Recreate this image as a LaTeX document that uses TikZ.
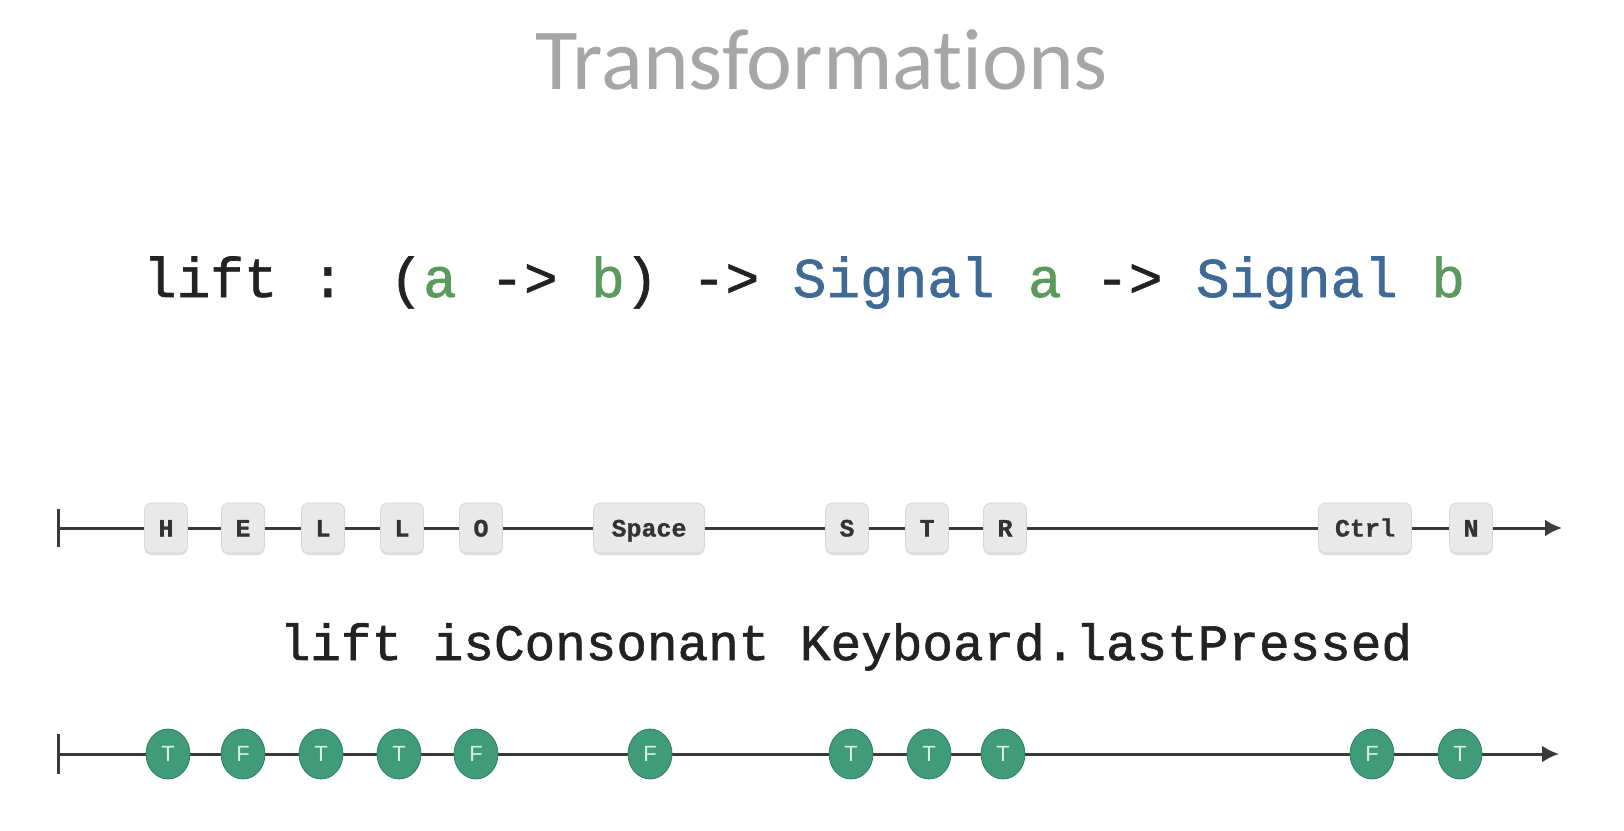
\documentclass[tikz,border=0pt]{standalone}
\usepackage{fontspec}
\setmainfont{Carlito}[Ligatures={NoCommon}]
\newfontfamily\codefont[FakeBold=1.2]{Liberation Mono}
\newfontfamily\keyfont[FakeBold=1]{Liberation Mono}
\newfontfamily\boolfont{Liberation Sans}
\usetikzlibrary{arrows.meta,shapes.geometric,shadows}
\definecolor{titlegray}{HTML}{A6A6A6}
\definecolor{codeblack}{HTML}{222222}
\definecolor{tgreen}{HTML}{5A9A5C}
\definecolor{tblue}{HTML}{3F6A95}
\definecolor{linegray}{HTML}{3A3A3A}
\definecolor{keyfill}{HTML}{E9E9E9}
\definecolor{keyedge}{HTML}{D6D6D6}
\definecolor{keytext}{HTML}{333333}
\definecolor{boolgreen}{HTML}{3F9B78}
\definecolor{booledge}{HTML}{2F7F62}
\definecolor{booltext}{HTML}{D8EFE4}
\begin{document}
\begin{tikzpicture}[x=1pt,y=-1pt,
  tl/.style={draw=linegray,line width=3pt},
  key/.style={rectangle,rounded corners=7pt,fill=keyfill,draw=keyedge,line width=0.6pt,
    minimum height=50pt,minimum width=43pt,inner sep=3pt,
    text height=17pt,text depth=0pt,
    font=\keyfont\bfseries\fontsize{25}{25}\selectfont,text=keytext,
    drop shadow={shadow xshift=0pt,shadow yshift=-2pt,fill=black,opacity=0.12}},
  bool/.style={ellipse,fill=boolgreen,draw=booledge,line width=0.8pt,minimum width=44pt,minimum height=50pt,inner sep=0pt,
    font=\boolfont\fontsize{22}{22}\selectfont,text=booltext},
  tip/.style={-{Latex[length=17pt,width=17pt]}},
  codetext/.style={anchor=base,text=codeblack}]
\useasboundingbox (0,0) rectangle (1624,830);
\fill[white] (0,0) rectangle (1624,830);

\node[anchor=base,text=titlegray,font=\fontsize{87}{92}\selectfont] (title) at (822,89) {Transformations};

\node[codetext,font=\codefont\fontsize{56}{60}\selectfont] (sig) at (804,297)
  {lift : (\textcolor{tgreen}{a} -> \textcolor{tgreen}{b}) -> \textcolor{tblue}{Signal} \textcolor{tgreen}{a} -> \textcolor{tblue}{Signal} \textcolor{tgreen}{b}};

\node[codetext,font=\codefont\fontsize{51}{55}\selectfont] (mid) at (846,660)
  {lift isConsonant Keyboard.lastPressed};

% top timeline
\coordinate (ts) at (57,528);
\coordinate (te) at (1562,528);
\node[key] (k1) at (166,528) {H};
\node[key] (k2) at (243,528) {E};
\node[key] (k3) at (323,528) {L};
\node[key] (k4) at (402,528) {L};
\node[key] (k5) at (481,528) {O};
\node[key,minimum width=111pt] (k6) at (649,528) {Space};
\node[key] (k7) at (847,528) {S};
\node[key] (k8) at (927,528) {T};
\node[key] (k9) at (1005,528) {R};
\node[key,minimum width=93pt] (k10) at (1365,528) {Ctrl};
\node[key] (k11) at (1471,528) {N};
\draw[tl,{Bar[width=38pt]}-] (ts) -- (k1);
\draw[tl] (k1) -- (k2);
\draw[tl] (k2) -- (k3);
\draw[tl] (k3) -- (k4);
\draw[tl] (k4) -- (k5);
\draw[tl] (k5) -- (k6);
\draw[tl] (k6) -- (k7);
\draw[tl] (k7) -- (k8);
\draw[tl] (k8) -- (k9);
\draw[tl] (k9) -- (k10);
\draw[tl] (k10) -- (k11);
\draw[tl,tip] (k11) -- (te);

% bottom timeline
\coordinate (bs) at (57,754);
\coordinate (be) at (1559,754);
\draw[tl,{Bar[width=40pt]}-{Latex[length=17pt,width=17pt]}] (bs) -- (be);
\node[bool] (c1) at (168,754) {T};
\node[bool] (c2) at (243,754) {F};
\node[bool] (c3) at (321,754) {T};
\node[bool] (c4) at (399,754) {T};
\node[bool] (c5) at (476,754) {F};
\node[bool] (c6) at (650,754) {F};
\node[bool] (c7) at (851,754) {T};
\node[bool] (c8) at (929,754) {T};
\node[bool] (c9) at (1003,754) {T};
\node[bool] (c10) at (1372,754) {F};
\node[bool] (c11) at (1460,754) {T};
\end{tikzpicture}
\end{document}
